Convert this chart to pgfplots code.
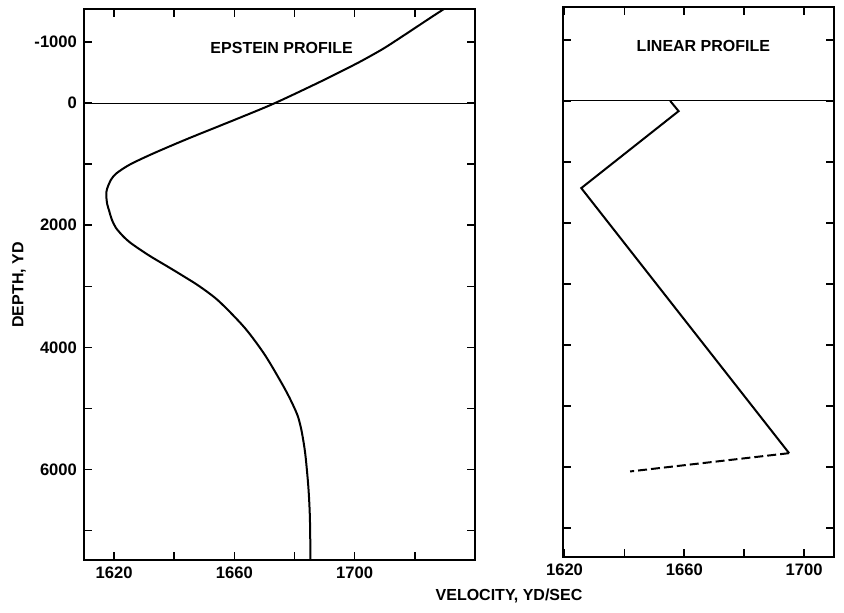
\documentclass[border=0pt]{standalone}
\usepackage{fontspec}
\setmainfont{Liberation Sans}
\usepackage{pgfplots}
\pgfplotsset{compat=1.18}
\pgfplotstableread{
v d
1730.0 -1550
1725.3 -1400
1721.6 -1279
1716.1 -1100
1709.8 -899
1704.5 -750
1699.8 -626
1688.8 -355
1673.5 0
1660.8 260
1644.2 590
1632.8 830
1625.2 1008
1620.8 1150
1619.0 1253
1617.7 1400
1617.4 1500
1617.7 1650
1618.4 1770
1619.2 1900
1620.6 2042
1623.4 2200
1626.2 2315
1631.8 2500
1638.6 2700
1643.6 2850
1648.4 3000
1654.8 3241
1663.4 3677
1670.0 4113
1675.3 4549
1678.3 4821
1680.9 5100
1682.1 5311
1683.0 5550
1683.7 5801
1684.6 6291
1685.1 6781
1685.3 7480
}\epstein
\pgfplotstableread{
v d
1655.3 0
1658.1 168
1625.6 1430
1695.0 5777
}\linsolid
\pgfplotstableread{
v d
1695.0 5777
1641.9 6077
}\lindash
\begin{document}
\begin{tikzpicture}
\path[use as bounding box] (0pt,0pt) rectangle (422pt,306.5pt);
\pgfplotsset{prof/.style={
  scale only axis, y dir=reverse, ymin=-1540, ymax=7480,
  axis line style={line width=1pt},
  tick align=inside, major tick length=4pt,
  tick style={line width=0.8pt,black},
  ytick={-1000,0,...,7000},
  tick label style={font=\fontsize{8.3}{10}\selectfont\bfseries},
  /pgf/number format/assume math mode=true}}
\begin{axis}[prof, anchor=south west, at={(42pt,26.5pt)}, width=195.5pt, height=275.5pt,
  xmin=1610, xmax=1740,
  xtick={1620,1640,...,1720}, xticklabels={1620,,1660,,1700,},
  yticklabels={-1000,0,,2000,,4000,,6000,}]
\draw[line width=0.5pt] (axis cs:1610,0) -- (axis cs:1740,0);
\addplot[line width=1pt, black, smooth, tension=0.5] table[x=v,y=d] {\epstein};
\end{axis}
\begin{axis}[prof, anchor=south west, at={(281.5pt,28pt)}, width=135.5pt, height=275pt,
  xmin=1619.5, xmax=1710,
  xtick={1620,1640,...,1700}, xticklabels={1620,,1660,,1700},
  yticklabel=\empty]
\draw[line width=0.5pt] (axis cs:1619.5,0) -- (axis cs:1710,0);
\addplot[line width=1pt, black] table[x=v,y=d] {\linsolid};
\addplot[line width=1pt, black, dash pattern=on 4.5pt off 2pt] table[x=v,y=d] {\lindash};
\end{axis}
\begin{scope}[font=\fontsize{8}{9.6}\selectfont\bfseries]
\node[rotate=90] at (9.5pt,164pt) {DEPTH, YD};
\node at (254.5pt,8.5pt) {VELOCITY, YD/SEC};
\node at (140.8pt,282.3pt) {EPSTEIN PROFILE};
\node at (351.7pt,283.6pt) {LINEAR PROFILE};
\end{scope}
\end{tikzpicture}
\end{document}
